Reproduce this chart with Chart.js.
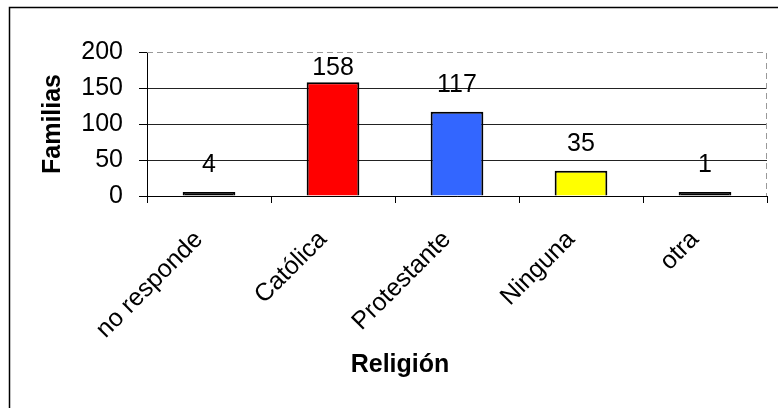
<!DOCTYPE html>
<html>
<head>
<meta charset="utf-8">
<script src="https://cdn.jsdelivr.net/npm/chart.js@4"></script>
<style>
  body { margin: 0; background: #fff; }
  canvas { display: block; }
</style>
</head>
<body>
<canvas id="religionChart" width="778" height="408"></canvas>
<script>
// familias por religión
var categories = ['no responde', 'Católica', 'Protestante', 'Ninguna', 'otra'];
var familias = [4, 158, 117, 35, 1];
var barColors = ['#000000', '#FF0000', '#3366FF', '#FFFF00', '#000000'];
var yMin = 0;
var yMax = 200;
var yStep = 50;
var xTitle = 'Religión';
var yTitle = 'Familias';

var FONT = 'Arial, "Liberation Sans", sans-serif';
Chart.defaults.font.family = FONT;
Chart.defaults.font.size = 25;
Chart.defaults.color = '#000';

// white page, frame on top/left, dashed top and right edges of the plot
var framePlugin = {
    id: 'frame',
    beforeDraw: function (chart) {
        var ctx = chart.ctx;
        ctx.save();
        ctx.fillStyle = '#fff';
        ctx.fillRect(0, 0, chart.width, chart.height);
        ctx.strokeStyle = '#000';
        ctx.lineWidth = 1.5;
        ctx.beginPath();
        ctx.moveTo(9.5, chart.height);
        ctx.lineTo(9.5, 7.5);
        ctx.lineTo(chart.width, 7.5);
        ctx.stroke();
        ctx.restore();
    },
    beforeDatasetsDraw: function (chart) {
        var ctx = chart.ctx;
        var a = chart.chartArea;
        ctx.save();
        ctx.strokeStyle = '#999';
        ctx.lineWidth = 1;
        ctx.setLineDash([6, 4]);
        ctx.beginPath();
        ctx.moveTo(a.left, a.top + 0.5);
        ctx.lineTo(a.right - 0.5, a.top + 0.5);
        ctx.lineTo(a.right - 0.5, a.bottom);
        ctx.stroke();
        ctx.restore();
    },
    afterDraw: function (chart) {
        // x axis title sits centred on the whole frame, not on the plot
        var ctx = chart.ctx;
        ctx.save();
        ctx.font = 'bold 25px ' + FONT;
        ctx.fillStyle = '#000';
        ctx.textAlign = 'center';
        ctx.textBaseline = 'middle';
        ctx.fillText(xTitle, 400, 365);
        ctx.restore();
    }
};

// value above each bar, kept inside the plot when the bar is tall
var valueLabels = {
    id: 'valueLabels',
    afterDatasetsDraw: function (chart) {
        var ctx = chart.ctx;
        var meta = chart.getDatasetMeta(0);
        var top = chart.chartArea.top;
        var zeroY = chart.scales.y.getPixelForValue(0);
        ctx.save();
        ctx.font = '25px ' + FONT;
        ctx.fillStyle = '#000';
        ctx.textAlign = 'center';
        ctx.textBaseline = 'alphabetic';
        meta.data.forEach(function (bar, i) {
            // anchor on the value itself, not the padded short bars
            var valueY = Math.min(bar.y, chart.scales.y.getPixelForValue(familias[i]));
            var y = Math.max(Math.min(valueY, zeroY) - 20, top + 23);
            ctx.fillText(String(familias[i]), bar.x, y);
        });
        ctx.restore();
    }
};

var ctx = document.getElementById('religionChart').getContext('2d');
var religionChart = new Chart(ctx, {
    type: 'bar',
    data: {
        labels: categories,
        datasets: [{
            data: familias,
            backgroundColor: barColors,
            borderColor: '#000',
            borderWidth: 2,
            minBarLength: 4,
            categoryPercentage: 1,
            barPercentage: 0.425
        }]
    },
    options: {
        responsive: false,
        animation: false,
        layout: { padding: { left: 9, top: 52, right: 11, bottom: 0 } },
        plugins: {
            legend: { display: false },
            tooltip: { enabled: false }
        },
        scales: {
            x: {
                grid: { offset: true, drawOnChartArea: false, tickLength: 7, color: '#000' },
                border: { color: '#000' },
                ticks: { minRotation: 45, maxRotation: 45, padding: 22, labelOffset: -10 },
                afterFit: function (scale) { scale.height = 212; }
            },
            y: {
                min: yMin,
                max: yMax,
                ticks: { stepSize: yStep, padding: 16 },
                grid: {
                    color: function (c) {
                        return c.tick && c.tick.value === yMax ? 'rgba(0,0,0,0)' : '#222';
                    },
                    tickColor: '#000',
                    tickLength: 8
                },
                border: { color: '#000' },
                title: {
                    display: true,
                    text: yTitle,
                    font: { size: 25, weight: 'bold' },
                    padding: { top: 29, bottom: 0 }
                },
                afterFit: function (scale) { scale.width = 138; }
            }
        }
    },
    plugins: [framePlugin, valueLabels]
});
</script>
</body>
</html>
